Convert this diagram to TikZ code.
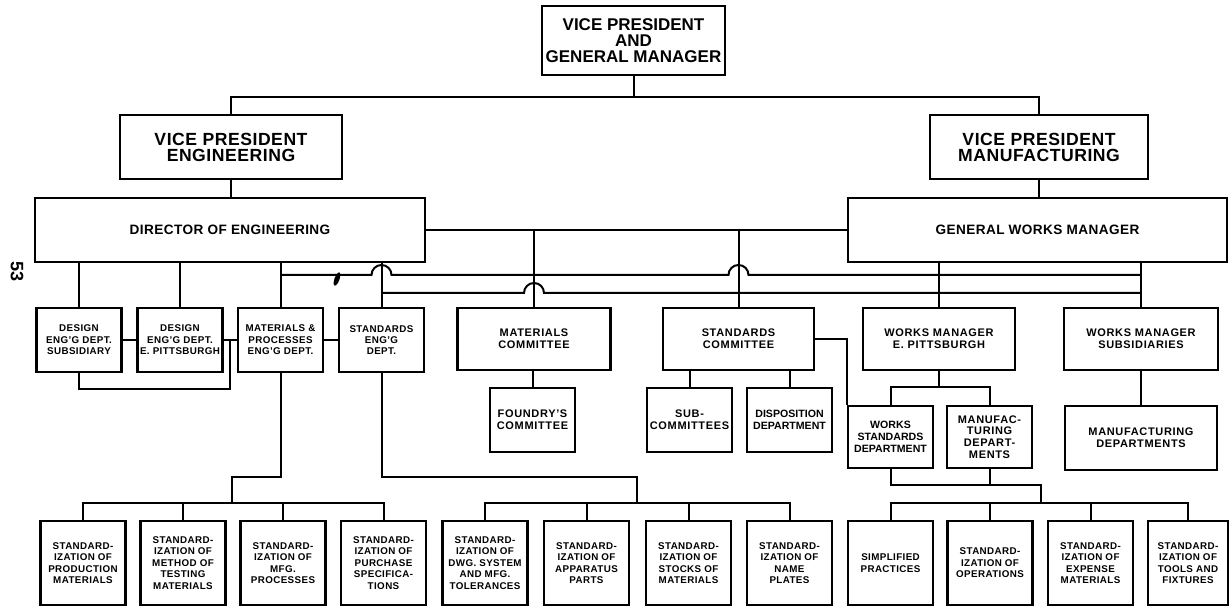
\documentclass[tikz,border=0pt]{standalone}
\usepackage{fontspec}
\setmainfont{Liberation Sans}
\usetikzlibrary{shapes.geometric}
\tikzset{>=stealth}
\tikzset{
  bigbox/.style={draw, line width=1.1pt, align=center, inner sep=0pt, font=\fontsize{8.8}{8}\selectfont\bfseries\addfontfeatures{LetterSpace=3}},
  headbox/.style={draw, line width=1.1pt, align=center, inner sep=0pt, minimum height=32pt, font=\fontsize{6.8}{8}\selectfont\bfseries\addfontfeatures{LetterSpace=3}},
  combox/.style={draw, line width=1.1pt, align=center, inner sep=0pt, font=\fontsize{5.5}{5.9}\selectfont\bfseries\addfontfeatures{LetterSpace=6}},
  deptbox/.style={draw, line width=1.1pt, align=center, inner sep=0pt, minimum width=42.5pt, font=\fontsize{4.9}{5.7}\selectfont\bfseries\addfontfeatures{LetterSpace=4}},
  link/.style={line width=1pt}
}

\begin{document}
\begin{tikzpicture}[x=0.5pt, y=-0.5pt]
    \useasboundingbox (0,0) rectangle (1230,608);

    \node[bigbox, minimum width=91.5pt, minimum height=34.5pt, font=\fontsize{8.5}{8}\selectfont\bfseries] (gm) at (633.5,40.5) {VICE PRESIDENT\\AND\\GENERAL MANAGER};
    \node[bigbox, minimum width=111pt, minimum height=32pt] (vpeng) at (231,147) {VICE PRESIDENT\\ENGINEERING};
    \node[bigbox, minimum width=109pt, minimum height=32pt] (vpmfg) at (1039,147) {VICE PRESIDENT\\MANUFACTURING};
    \node[headbox, minimum width=195pt] (dir) at (230,230) {DIRECTOR OF ENGINEERING};
    \node[headbox, minimum width=189.5pt] (gwm) at (1037.5,230) {GENERAL WORKS MANAGER};

    \node[deptbox, minimum height=32pt] (dsub) at (79,340) {DESIGN\\ENG'G DEPT.\\SUBSIDIARY};
    \node[deptbox, minimum height=32pt] (dep) at (180,340) {DESIGN\\ENG'G DEPT.\\E. PITTSBURGH};
    \node[deptbox, minimum height=32pt] (mp) at (280.5,340) {MATERIALS \&\\PROCESSES\\ENG'G DEPT.};
    \node[deptbox, minimum height=32pt] (seng) at (381.5,340) {STANDARDS\\ENG'G\\DEPT.};

    \node[combox, minimum width=76.5pt, minimum height=31pt] (matc) at (534,339) {MATERIALS\\COMMITTEE};
    \node[combox, minimum width=75.5pt, minimum height=31pt] (stdc) at (738.5,339) {STANDARDS\\COMMITTEE};
    \node[combox, minimum width=76pt, minimum height=31pt] (wmep) at (939,339) {WORKS MANAGER\\E. PITTSBURGH};
    \node[combox, minimum width=77pt, minimum height=31pt] (wmsub) at (1141,339) {WORKS MANAGER\\SUBSIDIARIES};

    \node[combox, minimum width=42.5pt, minimum height=32pt] (foundry) at (532.5,420) {FOUNDRY'S\\COMMITTEE};
    \node[combox, minimum width=42.5pt, minimum height=32pt] (subc) at (689.5,420) {SUB-\\COMMITTEES};
    \node[combox, minimum width=42.5pt, minimum height=32pt, font=\fontsize{5.3}{5.9}\selectfont\bfseries] (disp) at (789.5,420) {DISPOSITION\\DEPARTMENT};
    \node[combox, minimum width=42.5pt, minimum height=31pt, font=\fontsize{5.3}{5.9}\selectfont\bfseries] (wsd) at (890.5,437) {WORKS\\STANDARDS\\DEPARTMENT};
    \node[combox, minimum width=42.5pt, minimum height=31pt] (mfgd) at (989.5,437) {MANUFAC-\\TURING\\DEPART-\\MENTS};
    \node[combox, minimum width=76pt, minimum height=32pt] (mfgdep) at (1141,438) {MANUFACTURING\\DEPARTMENTS};

    \node[deptbox, minimum height=42pt] (b1) at (83,563) {STANDARD-\\IZATION OF\\PRODUCTION\\MATERIALS};
    \node[deptbox, minimum height=42pt] (b2) at (183,563) {STANDARD-\\IZATION OF\\METHOD OF\\TESTING\\MATERIALS};
    \node[deptbox, minimum height=42pt] (b3) at (283,563) {STANDARD-\\IZATION OF\\MFG.\\PROCESSES};
    \node[deptbox, minimum height=42pt] (b4) at (383.5,563) {STANDARD-\\IZATION OF\\PURCHASE\\SPECIFICA-\\TIONS};
    \node[deptbox, minimum height=42pt] (b5) at (485,563) {STANDARD-\\IZATION OF\\DWG. SYSTEM\\AND MFG.\\TOLERANCES};
    \node[deptbox, minimum height=42pt] (b6) at (586.5,563) {STANDARD-\\IZATION OF\\APPARATUS\\PARTS};
    \node[deptbox, minimum height=42pt] (b7) at (688.5,563) {STANDARD-\\IZATION OF\\STOCKS OF\\MATERIALS};
    \node[deptbox, minimum height=42pt] (b8) at (789.5,563) {STANDARD-\\IZATION OF\\NAME\\PLATES};
    \node[deptbox, minimum height=42pt] (b9) at (890.5,563) {SIMPLIFIED\\PRACTICES};
    \node[deptbox, minimum height=42pt] (b10) at (990,563) {STANDARD-\\IZATION OF\\OPERATIONS};
    \node[deptbox, minimum height=42pt] (b11) at (1090.5,563) {STANDARD-\\IZATION OF\\EXPENSE\\MATERIALS};
    \node[deptbox, minimum height=42pt, minimum width=40pt] (b12) at (1188,563) {STANDARD-\\IZATION OF\\TOOLS AND\\FIXTURES};

    \node[font=\fontsize{9}{9}\selectfont\bfseries, rotate=-90] (pageno) at (17,272) {53};
    \node[ellipse, fill, inner sep=0pt, minimum width=2.5pt, minimum height=7pt, rotate=-20] (blot) at (337,279) {};

    % upper levels
    \coordinate (topbus) at (0,97);
    \draw[link] (gm.south) -- (gm.south |- topbus);
    \draw[link] (vpeng.north) -- (vpeng.north |- topbus) -- (vpmfg.north |- topbus) -- (vpmfg.north);
    \draw[link] (vpeng.south) -- (vpeng.south |- dir.north);
    \draw[link] (vpmfg.south) -- (vpmfg.south |- gwm.north);
    \draw[link] (dir.east) -- (gwm.west);

    \foreach \n in {dsub,dep,mp,seng}
      \draw[link] (\n.north) -- (\n.north |- dir.south);
    \foreach \n in {wmep,wmsub}
      \draw[link] (\n.north) -- (\n.north |- gwm.south);
    \foreach \n in {matc,stdc}
      \draw[link] (\n.north) -- (\n.north |- dir.east);

    % the two cross lines
    \coordinate (ub) at (0,275);
    \coordinate (lb) at (0,293);
    \coordinate (hopa) at (seng.north |- ub);
    \coordinate (hopb) at (stdc.north |- ub);
    \coordinate (hopc) at (matc.north |- lb);
    \draw[link] (mp.north |- ub) -- ([xshift=-5pt]hopa) arc (180:0:5pt) -- ([xshift=-5pt]hopb) arc (180:0:5pt) -- (wmsub.north |- ub);
    \draw[link] (seng.north |- lb) -- ([xshift=-5pt]hopc) arc (180:0:5pt) -- (wmsub.north |- lb);

    \draw[link] (dsub.east) -- (dep.west);
    \draw[link] (dep.east) -- (mp.west);
    \draw[link] (mp.east) -- (seng.west);
    \coordinate (brk) at (230,389);
    \draw[link] (dsub.south) |- (brk) -- (brk |- dep.east);

    \draw[link] (foundry.north) -- (foundry.north |- matc.south);
    \draw[link] (subc.north) -- (subc.north |- stdc.south);
    \draw[link] (disp.north) -- (disp.north |- stdc.south);
    \draw[link] (stdc.east) -| (wsd.north west);
    \coordinate (epj) at (0,387);
    \draw[link] (wmep.south) -- (wmep.south |- epj);
    \draw[link] (wsd.north) |- (mfgd.north |- epj) -- (mfgd.north);
    \draw[link] (wmsub.south) -- (mfgdep.north);

    % bottom row
    \coordinate (bbus) at (0,503);
    \coordinate (mpj) at (232,477);
    \coordinate (sej) at (637,477);
    \coordinate (wj) at (1041,485);
    \draw[link] (mp.south) |- (mpj) -- (mpj |- bbus);
    \draw[link] (seng.south) |- (sej) -- (sej |- bbus);
    \draw[link] (wsd.south) |- (wj) -- (wj |- bbus);
    \draw[link] (mfgd.south) -- (mfgd.south |- wj);
    \draw[link] (b1.north) |- (b4.north |- bbus) -- (b4.north);
    \draw[link] (b5.north) |- (b8.north |- bbus) -- (b8.north);
    \draw[link] (b9.north) |- (b12.north |- bbus) -- (b12.north);
    \foreach \n in {b2,b3,b6,b7,b10,b11}
      \draw[link] (\n.north) -- (\n.north |- bbus);
\end{tikzpicture}
\end{document}
